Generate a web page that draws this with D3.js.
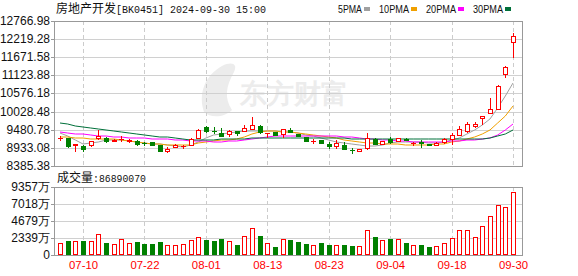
<!DOCTYPE html>
<html>
<head>
<meta charset="utf-8">
<title>房地产开发 BK0451</title>
<script src="https://cdnjs.cloudflare.com/ajax/libs/d3/7.8.5/d3.min.js"></script>
<style>
    body { margin: 0; background: #fff; }
    svg { display: block; }
    text { font-family: "Liberation Sans", Arial, sans-serif; }
</style>
</head>
<body>
<div id="chart"></div>
<script>
// trading days, 2024-07-05 .. 2024-09-30
const dates = [
    "07-05","07-08","07-09","07-10","07-11","07-12","07-15","07-16","07-17","07-18",
    "07-19","07-22","07-23","07-24","07-25","07-26","07-29","07-30","07-31","08-01",
    "08-02","08-05","08-06","08-07","08-08","08-09","08-12","08-13","08-14","08-15",
    "08-16","08-19","08-20","08-21","08-22","08-23","08-26","08-27","08-28","08-29",
    "08-30","09-02","09-03","09-04","09-05","09-06","09-09","09-10","09-11","09-12",
    "09-13","09-18","09-19","09-20","09-23","09-24","09-25","09-26","09-27","09-30"
];
const open = [
    9228, 9225, 9026, 8993, 9035, 9246, 9234, 9150, 9195, 9150,
    9150, 9080, 9098, 9020, 8824, 8963, 8975, 9035, 9240, 9556,
    9442, 9384, 9354, 9436, 9457, 9505, 9607, 9378, 9405, 9354,
    9475, 9354, 9255, 9129, 9174, 9053, 8984, 9035, 8870, 8843,
    8915, 9216, 9065, 9216, 9144, 9216, 9077, 9101, 9041, 9035,
    9105, 9195, 9336, 9445, 9595, 9836, 9998, 10119, 11172, 12145
];
const close = [
    9240, 8993, 9041, 8903, 9126, 9279, 9126, 9180, 9213, 9165,
    9059, 9068, 9029, 8842, 8885, 9035, 8990, 9216, 9481, 9436,
    9430, 9306, 9457, 9384, 9535, 9637, 9427, 9390, 9324, 9505,
    9405, 9306, 9135, 9141, 9083, 8984, 9074, 8909, 8858, 8900,
    9234, 9065, 9144, 9114, 9234, 9165, 9089, 9089, 9029, 9095,
    9195, 9315, 9517, 9667, 9667, 9896, 10119, 10811, 11392, 12325
];
const high = [
    9285, 9240, 9065, 9005, 9135, 9487, 9255, 9195, 9285, 9195,
    9165, 9105, 9105, 9029, 8945, 9044, 9029, 9246, 9496, 9595,
    9556, 9526, 9466, 9436, 9625, 9857, 9616, 9393, 9420, 9511,
    9535, 9360, 9261, 9204, 9180, 9105, 9156, 9105, 8933, 8909,
    9384, 9225, 9150, 9261, 9246, 9225, 9114, 9186, 9044, 9105,
    9246, 9396, 9607, 9716, 9706, 9902, 10450, 10820, 11407, 12394
];
const low = [
    9165, 8963, 8825, 8833, 8993, 9210, 9114, 9135, 9126, 9120,
    9023, 9029, 9020, 8833, 8818, 8954, 8915, 9023, 9231, 9405,
    9384, 9300, 9306, 9324, 9436, 9502, 9384, 9255, 9315, 9255,
    9400, 9300, 9126, 9083, 9074, 8924, 8924, 8903, 8782, 8834,
    8909, 9059, 9059, 9083, 9135, 9156, 9014, 8963, 9023, 9029,
    9095, 9065, 9330, 9414, 9565, 9667, 9992, 10113, 11070, 11672
];
const volume = [
    16030000, 18950000, 19320000, 19080000, 19410000, 28360000, 16440000, 14660000, 21510000, 16030000,
    17400000, 15070000, 15210000, 17400000, 13290000, 13350000, 15070000, 20550000, 24250000, 20550000,
    19180000, 21920000, 19020000, 13700000, 26030000, 36580000, 26030000, 16030000, 10960000, 21510000,
    20550000, 17400000, 15070000, 13500000, 16030000, 13700000, 13290000, 13700000, 12330000, 12330000,
    34250000, 24660000, 20550000, 21920000, 21920000, 16440000, 13700000, 13700000, 11420000, 12330000,
    16440000, 23750000, 34250000, 34250000, 24660000, 39730000, 53430000, 68500000, 65760000, 86890070
];
const ma5 = [
    9390, 9300, 9180, 9065, 9074, 9120, 9156, 9165, 9156, 9135,
    9114, 9090, 9065, 9044, 9029, 8999, 8969, 9020, 9120, 9225,
    9315, 9366, 9396, 9414, 9430, 9436, 9436, 9436, 9430, 9414,
    9399, 9369, 9330, 9285, 9225, 9171, 9120, 9090, 9044, 9005,
    8984, 8984, 9035, 9083, 9114, 9114, 9114, 9105, 9083, 9083,
    9105, 9165, 9240, 9360, 9466, 9616, 9812, 10128, 10489, 10902
];
const ma10 = [
    9264, 9261, 9240, 9225, 9195, 9195, 9204, 9195, 9180, 9150,
    9120, 9090, 9065, 9050, 9035, 9023, 9023, 9035, 9074, 9114,
    9150, 9165, 9180, 9210, 9276, 9345, 9406, 9430, 9436, 9427,
    9412, 9390, 9360, 9330, 9300, 9261, 9225, 9180, 9141, 9111,
    9090, 9074, 9065, 9053, 9044, 9035, 9035, 9035, 9035, 9044,
    9065, 9114, 9150, 9216, 9270, 9345, 9466, 9676, 9902, 10188
];
const ma20 = [
    9427, 9396, 9366, 9345, 9321, 9300, 9279, 9264, 9249, 9237,
    9228, 9222, 9216, 9207, 9195, 9180, 9165, 9150, 9138, 9129,
    9120, 9120, 9126, 9150, 9180, 9210, 9246, 9276, 9282, 9285,
    9288, 9291, 9291, 9288, 9285, 9282, 9279, 9276, 9255, 9234,
    9216, 9195, 9180, 9165, 9150, 9135, 9120, 9111, 9105, 9105,
    9111, 9126, 9141, 9159, 9180, 9210, 9246, 9330, 9481, 9646
];
const ma30 = [
    9685, 9646, 9607, 9577, 9547, 9517, 9481, 9457, 9427, 9397,
    9366, 9336, 9306, 9276, 9249, 9219, 9195, 9171, 9165, 9174,
    9186, 9195, 9204, 9210, 9216, 9222, 9225, 9228, 9231, 9231,
    9228, 9226, 9228, 9230, 9228, 9225, 9222, 9220, 9216, 9216,
    9213, 9213, 9216, 9213, 9210, 9204, 9198, 9195, 9195, 9192,
    9192, 9195, 9195, 9198, 9201, 9216, 9246, 9294, 9366, 9466
];
const priceTicks = [8385.38, 8933.08, 9480.78, 10028.48, 10576.18, 11123.88, 11671.58, 12219.28, 12766.98];
const volTicks = [0, 23392500, 46785000, 70177500, 93570000];
const labelDates = ["07-10", "07-22", "08-01", "08-13", "08-23", "09-04", "09-18", "09-30"];
const maNames = ["5PMA", "10PMA", "20PMA", "30PMA"];

const W = 578, H = 276;
const left = 54, right = 522;
const priceTop = 21, priceBottom = 166;
const volTop = 187, volBottom = 255;
const RED = "#ff0000", GREEN = "#008000";
const maColors = ["#a0a0a0", "#f0a000", "#ff00ff", "#00703a"];
const CJK = "'Noto Sans CJK SC', sans-serif";
const MONO = "'Liberation Mono', 'DejaVu Sans Mono', monospace";

const svg = d3.select("#chart").append("svg")
    .attr("width", W)
    .attr("height", H);

svg.append("rect").attr("width", W).attr("height", H).attr("fill", "#fff");

const x = d3.scalePoint().domain(dates).range([60, 513]);
const y = d3.scaleLinear()
    .domain([priceTicks[0], priceTicks[priceTicks.length - 1]])
    .range([priceBottom, priceTop])
    .interpolate(d3.interpolateRound);
const yv = d3.scaleLinear()
    .domain([0, volTicks[volTicks.length - 1]])
    .range([volBottom, volTop])
    .interpolate(d3.interpolateRound);

const px = v => Math.round(v) + 0.5;

// watermark
const wm = svg.append("g").attr("fill", "#ececec");
wm.append("path")
    .attr("d", "M204,112 C198,95 204,76 222,66 C232,61 238,64 234,72 C226,86 224,98 232,110 C224,118 210,118 204,112 Z");
wm.append("text")
    .attr("x", 240).attr("y", 103)
    .attr("font-family", CJK)
    .attr("font-size", 27)
    .attr("font-weight", "bold")
    .text("东方财富");

// grid
const grid = svg.append("g").attr("shape-rendering", "crispEdges");
grid.selectAll("line.h").data(priceTicks).join("line")
    .attr("x1", left).attr("x2", right)
    .attr("y1", d => y(d) + 0.5).attr("y2", d => y(d) + 0.5)
    .attr("stroke", "#d0d0d0");
grid.selectAll("line.hv").data(volTicks).join("line")
    .attr("x1", left).attr("x2", right)
    .attr("y1", d => yv(d) + 0.5).attr("y2", d => yv(d) + 0.5)
    .attr("stroke", "#d0d0d0");
[[priceTop, priceBottom], [volTop, volBottom]].forEach(([t, b]) => {
    grid.append("g").selectAll("line").data(labelDates).join("line")
        .attr("x1", d => px(x(d))).attr("x2", d => px(x(d)))
        .attr("y1", t).attr("y2", b)
        .attr("stroke", "#cccccc")
        .attr("stroke-dasharray", "4,3");
});

// frames
svg.append("rect")
    .attr("x", left + 0.5).attr("y", priceTop + 0.5)
    .attr("width", right - left).attr("height", priceBottom - priceTop)
    .attr("fill", "none").attr("stroke", "#999").attr("shape-rendering", "crispEdges");
svg.append("rect")
    .attr("x", left + 0.5).attr("y", volTop + 0.5)
    .attr("width", right - left).attr("height", volBottom - volTop)
    .attr("fill", "none").attr("stroke", "#999").attr("shape-rendering", "crispEdges");

// axes
function styleAxis(g) {
    g.select(".domain").remove();
    g.selectAll(".tick line").attr("stroke", "#999");
    g.selectAll(".tick text")
        .attr("fill", "#111")
        .attr("font-size", 12)
        .attr("font-family", "'Liberation Sans', Arial, sans-serif");
}
svg.append("g")
    .attr("transform", `translate(${left},0)`)
    .call(d3.axisLeft(y).tickValues(priceTicks).tickSize(3).tickPadding(1).tickFormat(d3.format(".2f")))
    .call(styleAxis);
svg.append("g")
    .attr("transform", `translate(${left},0)`)
    .call(d3.axisLeft(yv).tickValues(volTicks).tickSize(3).tickPadding(1)
        .tickFormat(d => d === 0 ? "0" : Math.round(d / 1e4) + "万"))
    .call(styleAxis);

// x labels
svg.append("g").selectAll("text").data(labelDates).join("text")
    .attr("x", d => x(d) + 0.5)
    .attr("y", 269)
    .attr("text-anchor", "middle")
    .attr("fill", RED)
    .attr("font-family", MONO)
    .attr("font-size", 11)
    .attr("textLength", 29)
    .attr("lengthAdjust", "spacingAndGlyphs")
    .text(d => d);

// up/down colour
const isUp = i => close[i] > open[i] || (close[i] === open[i] && (i === 0 || close[i] >= close[i - 1]));

// moving averages
const maData = [ma5, ma10, ma20, ma30];
const line = d3.line().x((d, i) => x(dates[i])).y(d => y(d));
svg.append("g").selectAll("path").data(maData).join("path")
    .attr("d", line)
    .attr("fill", "none")
    .attr("stroke", (d, i) => maColors[i])
    .attr("stroke-width", 1);

// candles
const candle = svg.append("g").attr("shape-rendering", "crispEdges")
    .selectAll("g").data(dates).join("g");
candle.each(function (d, i) {
    const g = d3.select(this);
    const col = isUp(i) ? RED : GREEN;
    const cx = px(x(d));
    const yo = y(open[i]), yc = y(close[i]);
    const yh = y(high[i]), yl = y(low[i]);
    const top = Math.min(yo, yc), bot = Math.max(yo, yc);
    if (bot - top < 1) {
        g.append("line").attr("x1", cx).attr("x2", cx).attr("y1", yh).attr("y2", yl + 1).attr("stroke", col);
        g.append("line").attr("x1", cx - 2.5).attr("x2", cx + 2.5).attr("y1", top + 0.5).attr("y2", top + 0.5).attr("stroke", col);
        return;
    }
    if (isUp(i)) {
        if (yh < top) g.append("line").attr("x1", cx).attr("x2", cx).attr("y1", yh).attr("y2", top).attr("stroke", col);
        if (yl > bot) g.append("line").attr("x1", cx).attr("x2", cx).attr("y1", bot).attr("y2", yl + 1).attr("stroke", col);
        g.append("rect")
            .attr("x", cx - 2).attr("y", top + 0.5)
            .attr("width", 4).attr("height", bot - top)
            .attr("fill", "#fff").attr("stroke", col);
    } else {
        g.append("line").attr("x1", cx).attr("x2", cx).attr("y1", yh).attr("y2", yl + 1).attr("stroke", col);
        g.append("rect")
            .attr("x", cx - 2).attr("y", top + 0.5)
            .attr("width", 4).attr("height", bot - top)
            .attr("fill", col).attr("stroke", col);
    }
});

// volume bars
svg.append("g").attr("shape-rendering", "crispEdges")
    .selectAll("rect").data(volume).join("rect")
    .attr("x", (d, i) => px(x(dates[i])) - 2)
    .attr("y", d => yv(d) + 0.5)
    .attr("width", 4)
    .attr("height", d => volBottom - yv(d) - 1)
    .attr("fill", (d, i) => isUp(i) ? "#fff" : GREEN)
    .attr("stroke", (d, i) => isUp(i) ? RED : GREEN);

// title
const title = svg.append("text").attr("x", 56).attr("y", 13).attr("fill", "#111");
title.append("tspan").attr("font-family", CJK).attr("font-size", 12).text("房地产开发");
title.append("tspan")
    .attr("font-family", MONO).attr("font-size", 11)
    .attr("textLength", 150).attr("lengthAdjust", "spacingAndGlyphs")
    .text("[BK0451] 2024-09-30 15:00");

// volume caption
const cap = svg.append("text").attr("x", 57).attr("y", 182).attr("fill", "#111");
cap.append("tspan").attr("font-family", CJK).attr("font-size", 12).text("成交量");
cap.append("tspan")
    .attr("font-family", MONO).attr("font-size", 11)
    .attr("textLength", 53).attr("lengthAdjust", "spacingAndGlyphs")
    .text(":" + volume[volume.length - 1]);

// legend
let lx = 338;
const legend = svg.append("g");
maNames.forEach((name, i) => {
    const w = name.length * 6;
    legend.append("text")
        .attr("x", lx).attr("y", 13)
        .attr("fill", "#111")
        .attr("font-family", MONO).attr("font-size", 11)
        .attr("textLength", w).attr("lengthAdjust", "spacingAndGlyphs")
        .text(name);
    legend.append("rect")
        .attr("x", lx + w + 2).attr("y", 7)
        .attr("width", 6).attr("height", 4)
        .attr("fill", maColors[i]);
    lx += w + 17;
});
</script>
</body>
</html>
